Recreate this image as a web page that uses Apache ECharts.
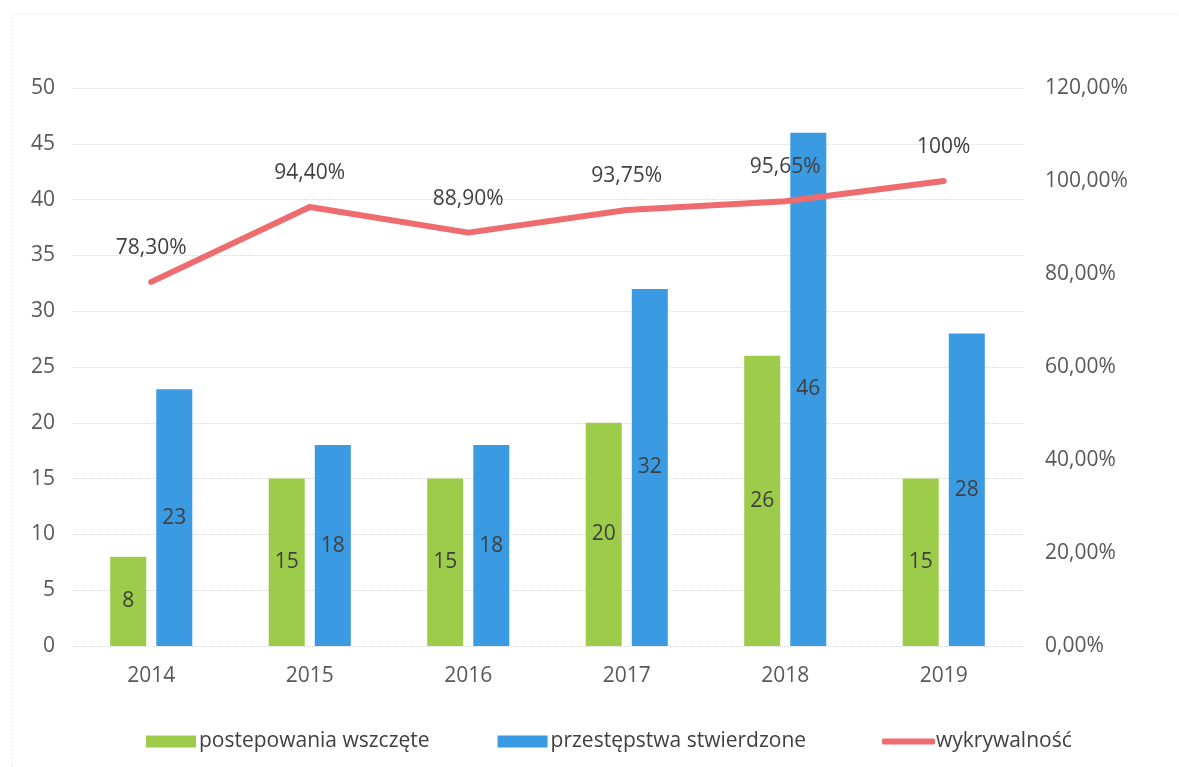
<!DOCTYPE html>
<html>
<head>
<meta charset="utf-8">
<script src="https://cdn.jsdelivr.net/npm/echarts@6/dist/echarts.min.js"></script>
<style>
  html, body { margin: 0; padding: 0; background: #fff; }
  #main { width: 1179px; height: 767px; }
</style>
</head>
<body>
<div id="main"></div>
<script>
  // dane z wykresu
  var years = ['2014', '2015', '2016', '2017', '2018', '2019'];
  var wszczete = [8, 15, 15, 20, 26, 15];
  var stwierdzone = [23, 18, 18, 32, 46, 28];
  var wykrywalnosc = [78.30, 94.40, 88.90, 93.75, 95.65, 100];
  var wykrywalnoscLabels = ['78,30%', '94,40%', '88,90%', '93,75%', '95,65%', '100%'];

  var font = 'Open Sans';
  var textColor = '#595959';
  var fs = 21;

  var myChart = echarts.init(document.getElementById('main'));

  var option = {
    backgroundColor: '#fff',
    textStyle: { fontFamily: font },
    // slad ramki ze skanu
    graphic: [{
      type: 'polyline',
      shape: { points: [[12, 767], [12, 14], [1179, 14]] },
      style: { stroke: '#e8e8e8', lineWidth: 1, lineDash: [2, 2], fill: null },
      silent: true
    }],
    grid: { left: 72, right: 156, top: 88, bottom: 121 },
    legend: [{
      left: 141,
      bottom: 10,
      itemWidth: 50,
      itemHeight: 12,
      itemGap: 68,
      icon: 'rect',
      textStyle: { fontFamily: font, fontSize: fs, color: '#404040', padding: [0, 0, 0, -2] },
      data: ['postepowania wszczęte', 'przestępstwa stwierdzone']
    }, {
      left: 877,
      bottom: 10,
      itemWidth: 53,
      itemHeight: 6,
      icon: 'roundRect',
      textStyle: { fontFamily: font, fontSize: fs, color: '#404040', padding: [0, 0, 0, -4] },
      data: ['wykrywalność']
    }],
    xAxis: {
      type: 'category',
      data: years,
      axisLine: { show: false },
      axisTick: { show: false },
      axisLabel: { fontSize: fs, color: textColor, margin: 20, fontFamily: font }
    },
    yAxis: [{
      type: 'value',
      min: 0,
      max: 50,
      interval: 5,
      axisLine: { show: false },
      axisTick: { show: false },
      axisLabel: { fontSize: fs, color: textColor, margin: 17, fontFamily: font },
      splitLine: { lineStyle: { color: '#d9d9d9', type: 'dotted', width: 1 } }
    }, {
      type: 'value',
      min: 0,
      max: 120,
      interval: 20,
      axisLine: { show: false },
      axisTick: { show: false },
      splitLine: { show: false },
      axisLabel: {
        fontSize: fs, color: textColor, margin: 22, fontFamily: font,
        formatter: function (v) { return v.toFixed(2).replace('.', ',') + '%'; }
      }
    }],
    series: [{
      name: 'postepowania wszczęte',
      type: 'bar',
      data: wszczete,
      barWidth: 36,
      barGap: '28%',
      itemStyle: { color: '#9dcb4a' },
      label: { show: true, position: 'inside', fontSize: fs, color: '#404040', fontFamily: font },
      z: 2
    }, {
      name: 'przestępstwa stwierdzone',
      type: 'bar',
      data: stwierdzone,
      barWidth: 36,
      itemStyle: { color: '#3a9be2' },
      label: { show: true, position: 'inside', fontSize: fs, color: '#404040', fontFamily: font },
      z: 2
    }, {
      name: 'wykrywalność',
      type: 'line',
      yAxisIndex: 1,
      data: wykrywalnosc,
      showSymbol: true,
      symbol: 'circle',
      symbolSize: 1,
      lineStyle: { color: '#ee6b6e', width: 6, cap: 'round', join: 'round' },
      itemStyle: { color: '#ee6b6e' },
      label: {
        show: true,
        position: 'top',
        distance: 23,
        fontSize: fs,
        color: '#404040',
        fontFamily: font,
        formatter: function (p) { return wykrywalnoscLabels[p.dataIndex]; }
      },
      z: 3
    }]
  };

  myChart.setOption(option);
</script>
</body>
</html>
